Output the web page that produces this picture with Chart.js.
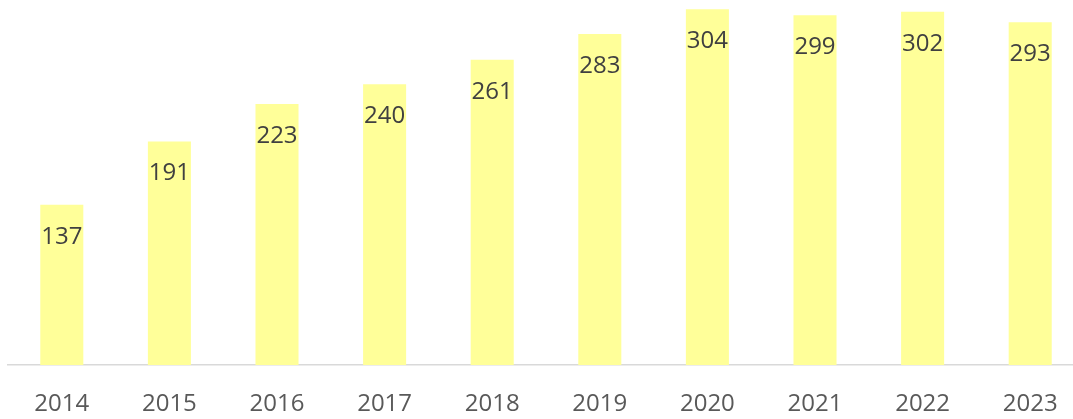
<!DOCTYPE html>
<html>
<head>
<meta charset="utf-8">
<script src="https://cdn.jsdelivr.net/npm/chart.js@4/dist/chart.umd.min.js"></script>
<style>
html,body{margin:0;padding:0;background:#fff;overflow:hidden;width:1073px;height:419px;}
#wrap{width:1084px;height:419px;}
</style>
</head>
<body>
<div id="wrap"><canvas id="c" width="1084" height="419"></canvas></div>
<script>
const years = ["2014","2015","2016","2017","2018","2019","2020","2021","2022","2023"];
const values = [137,191,223,240,261,283,304,299,302,293];
const yMax = 312;

const labelPlugin = {
  id: 'barLabels',
  afterDatasetsDraw(chart) {
    const ctx = chart.ctx;
    const meta = chart.getDatasetMeta(0);
    ctx.save();
    ctx.font = '24px "Open Sans", "Noto Sans", sans-serif';
    ctx.fillStyle = '#404040';
    ctx.textAlign = 'center';
    ctx.textBaseline = 'middle';
    meta.data.forEach((bar, i) => {
      ctx.fillText(String(values[i]), bar.x, bar.y + 32);
    });
    ctx.restore();
  }
};

new Chart(document.getElementById('c'), {
  type: 'bar',
  data: {
    labels: years,
    datasets: [{
      data: values,
      backgroundColor: '#FFFF99',
      borderWidth: 0,
      barPercentage: 0.4,
      categoryPercentage: 1.0
    }]
  },
  options: {
    responsive: false,
    animation: false,
    devicePixelRatio: 1,
    layout: { padding: { left: 8, right: 0, top: 0, bottom: 3 } },
    plugins: { legend: { display: false }, tooltip: { enabled: false } },
    scales: {
      x: {
        grid: { display: false, drawTicks: false },
        border: { display: true, color: '#D9D9D9', width: 1.5 },
        ticks: {
          color: '#595959',
          font: { family: '"Open Sans", "Noto Sans", sans-serif', size: 24 },
          padding: 25,
          maxRotation: 0,
          autoSkip: false
        },
        afterFit(scale) { scale.height = 51; }
      },
      y: {
        display: false,
        min: 0,
        max: yMax,
        grid: { display: false }
      }
    }
  },
  plugins: [labelPlugin]
});
</script>
</body>
</html>
